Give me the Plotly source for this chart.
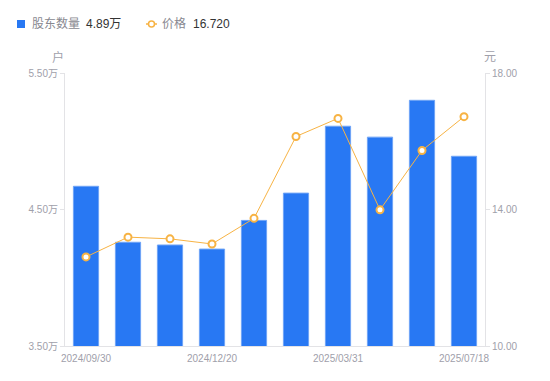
import plotly.graph_objects as go

dates = ["2024/09/30", "2024/10/31", "2024/11/29", "2024/12/20", "2024/12/31",
         "2025/03/10", "2025/03/31", "2025/04/30", "2025/06/30", "2025/07/18"]
holders_wan = [4.67, 4.26, 4.24, 4.21, 4.42, 4.62, 5.11, 5.03, 5.30, 4.89]
price = [12.61, 13.19, 13.14, 12.99, 13.74, 16.14, 16.67, 13.99, 15.73, 16.72]

left_ticks = [3.5, 4.5, 5.5]
left_ticktext = ["3.50万", "4.50万", "5.50万"]
right_ticks = [10, 14, 18]
right_ticktext = ["10.00", "14.00", "18.00"]
x_ticks = ["2024/09/30", "2024/12/20", "2025/03/31", "2025/07/18"]

BLUE = "#2878F3"
ORANGE = "#F7B344"
GRAY = "#A0A0AA"
AXIS = "#E3E3E6"
FONT = "Liberation Sans, Noto Sans CJK SC, sans-serif"

fig = go.Figure()
fig.add_trace(go.Bar(x=dates, y=holders_wan, marker=dict(color=BLUE, line=dict(color="#6FA4F6", width=1)),
                     name="股东数量", yaxis="y", hoverinfo="skip"))
fig.add_trace(go.Scatter(x=dates, y=price, mode="lines+markers", name="价格", yaxis="y2",
                         line=dict(color=ORANGE, width=1),
                         marker=dict(size=7, color="white", line=dict(color=ORANGE, width=2)),
                         hoverinfo="skip"))

fig.update_layout(
    width=542, height=373,
    margin=dict(l=57, r=65, t=65, b=35),
    paper_bgcolor="white", plot_bgcolor="white",
    showlegend=False,
    bargap=0.4,
    font=dict(family=FONT, size=10, color=GRAY),
    xaxis=dict(type="category", range=[-0.5, len(dates) - 0.5], autorange=False,
               tickmode="array", tickvals=x_ticks, ticktext=x_ticks,
               showline=True, linecolor=AXIS, linewidth=1, ticks="", showgrid=False,
               ticklabelstandoff=3,
               tickfont=dict(size=10, color=GRAY), zeroline=False),
    yaxis=dict(range=[3.5, 5.5], tickmode="array", tickvals=left_ticks, ticktext=left_ticktext,
               showline=True, linecolor=AXIS, linewidth=1, ticks="outside", ticklen=4,
               tickcolor=AXIS, showgrid=False, zeroline=False,
               tickfont=dict(size=10, color=GRAY)),
    yaxis2=dict(range=[10, 18], overlaying="y", side="right", tickmode="array",
                tickvals=right_ticks, ticktext=right_ticktext,
                showline=True, linecolor=AXIS, linewidth=1, ticks="outside", ticklen=4,
                tickcolor=AXIS, showgrid=False, zeroline=False,
                tickfont=dict(size=10, color=GRAY)),
)

# axis unit labels
fig.add_annotation(text="户", xref="paper", yref="paper", x=-0.017, y=1.0, yshift=16,
                   showarrow=False, font=dict(size=12, color=GRAY), xanchor="center", yanchor="middle")
fig.add_annotation(text="元", xref="paper", yref="paper", x=1.012, y=1.0, yshift=16,
                   showarrow=False, font=dict(size=12, color=GRAY), xanchor="center", yanchor="middle")

# custom legend
fig.add_shape(type="rect", xref="paper", yref="paper",
              x0=(17 - 65) / 420, x1=(25 - 65) / 420,
              y0=(346 - 28) / 273, y1=(346 - 20) / 273,
              fillcolor=BLUE, line=dict(width=0))
fig.add_annotation(text="股东数量", xref="paper", yref="paper", x=(30 - 65) / 420, y=(346 - 24) / 273,
                   showarrow=False, xanchor="left", yanchor="middle",
                   font=dict(size=12, color="#888890"))
fig.add_annotation(text="4.89万", xref="paper", yref="paper", x=(84 - 65) / 420, y=(346 - 24) / 273,
                   showarrow=False, xanchor="left", yanchor="middle",
                   font=dict(size=12, color="#333333"))
fig.add_shape(type="line", xref="paper", yref="paper",
              x0=(146 - 65) / 420, x1=(157 - 65) / 420,
              y0=(346 - 24) / 273, y1=(346 - 24) / 273,
              line=dict(color=ORANGE, width=1.5))
fig.add_shape(type="circle", xref="paper", yref="paper",
              x0=(148.5 - 65) / 420, x1=(154.5 - 65) / 420,
              y0=(346 - 27) / 273, y1=(346 - 21) / 273,
              fillcolor="white", line=dict(color=ORANGE, width=1.5))
fig.add_annotation(text="价格", xref="paper", yref="paper", x=(160 - 65) / 420, y=(346 - 24) / 273,
                   showarrow=False, xanchor="left", yanchor="middle",
                   font=dict(size=12, color="#888890"))
fig.add_annotation(text="16.720", xref="paper", yref="paper", x=(191 - 65) / 420, y=(346 - 24) / 273,
                   showarrow=False, xanchor="left", yanchor="middle",
                   font=dict(size=12, color="#333333"))

fig.write_html("out.html")
